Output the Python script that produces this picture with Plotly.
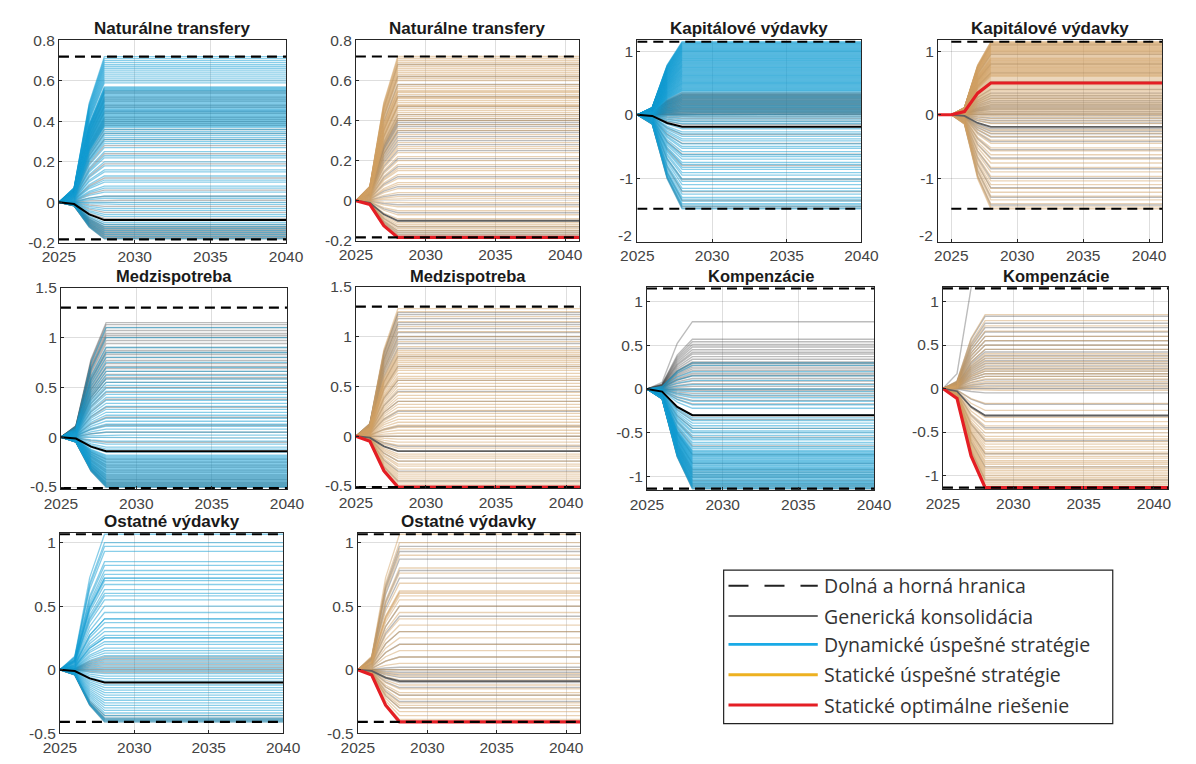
import plotly.graph_objects as go

W, H = 1196, 764
OFF = 8  # default page margin of the html body
FW, FH = W - 2 * OFF, H - 2 * OFF

# ---------------- data ----------------
years_dyn = list(range(2025, 2041))
years_sta = list(range(2025, 2042))
# phase-in share of the final level for 2025, 2026, 2027, 2028, ... (flat afterwards)
phase_dyn = [0.0, 0.1, 0.68] + [1.0] * 13
phase_sta = [0.0, 0.1, 0.68] + [1.0] * 14

titles = ["Naturálne transfery", "Naturálne transfery",
          "Kapitálové výdavky", "Kapitálové výdavky",
          "Medzispotreba", "Medzispotreba",
          "Kompenzácie", "Kompenzácie",
          "Ostatné výdavky", "Ostatné výdavky"]
kinds = ["dyn", "sta", "dyn", "sta", "dyn", "sta", "dyn", "sta", "dyn", "sta"]

lower_bound = [-0.183, -0.183, -1.48, -1.48, -0.51, -0.51, -1.14, -1.14, -0.41, -0.41]
upper_bound = [0.72, 0.72, 1.15, 1.15, 1.30, 1.30, 1.15, 1.15, 1.065, 1.065]
generic_level = [-0.088, -0.10, -0.19, -0.19, -0.14, -0.15, -0.30, -0.31, -0.10, -0.09]
optimal_level = [None, -0.183, None, 0.50, None, -0.51, None, -1.14, None, -0.41]

# final levels of successful strategies (coloured) and other strategies (grey)
succ_1 = [0.72, 0.71, 0.70, 0.69, 0.68, 0.67, 0.66, 0.65, 0.64, 0.63, 0.62, 0.61, 0.60, 0.59,
          0.57, 0.565, 0.56, 0.555, 0.55, 0.545, 0.54, 0.535, 0.53, 0.525, 0.52, 0.515, 0.51,
          0.505, 0.50, 0.495, 0.49, 0.485, 0.48, 0.475, 0.47, 0.465, 0.46, 0.455, 0.45,
          0.445, 0.44, 0.435, 0.43, 0.425, 0.42, 0.415, 0.41, 0.405, 0.40, 0.395, 0.39,
          0.385, 0.38, 0.375, 0.37, 0.36, 0.35, 0.34, 0.33, 0.32, 0.31, 0.30, 0.29, 0.27,
          0.25, 0.23, 0.22, 0.20, 0.18, 0.16, 0.15, 0.13, 0.11, 0.10, 0.08, 0.07, 0.05,
          0.03, 0.02, 0.0, -0.01, -0.03, -0.04, -0.06, -0.07, -0.10, -0.11, -0.12, -0.13,
          -0.14, -0.15, -0.16, -0.17, -0.18]
other_1 = [0.55, 0.54, 0.52, 0.51, 0.50, 0.48, 0.47, 0.45, 0.44, 0.42, 0.41, 0.40, 0.39,
           0.38, 0.36, 0.34, 0.31, 0.28, 0.24, 0.19, 0.12, 0.06, 0.03, 0.01, -0.02, -0.05,
           -0.08, -0.11, -0.12, -0.125, -0.13, -0.135, -0.14, -0.145, -0.15, -0.155, -0.16,
           -0.165, -0.17, -0.175, -0.18]

succ_2 = [0.72, 0.71, 0.70, 0.69, 0.68, 0.67, 0.66, 0.65, 0.64, 0.63, 0.62, 0.61, 0.60, 0.58,
          0.57, 0.56, 0.55, 0.545, 0.54, 0.53, 0.52, 0.515, 0.51, 0.50, 0.49, 0.48, 0.475,
          0.47, 0.46, 0.45, 0.44, 0.43, 0.42, 0.41, 0.40, 0.38, 0.36, 0.35, 0.33, 0.31, 0.29,
          0.27, 0.26, 0.24, 0.22, 0.20, 0.18, 0.16, 0.15, 0.13, 0.11, 0.09, 0.08, 0.06, 0.04,
          0.02, 0.01, -0.01, -0.03, -0.05, -0.07, -0.09, -0.11, -0.12, -0.13, -0.14, -0.15,
          -0.16, -0.17]
other_2 = [0.68, 0.62, 0.58, 0.52, 0.47, 0.43, 0.41, 0.40, 0.39, 0.38, 0.37, 0.35, 0.34,
           0.32, 0.30, 0.28, 0.25, 0.21, 0.17, 0.12, 0.07, 0.03, -0.02, -0.06, -0.13, -0.15,
           -0.16, -0.17]

succ_3 = [1.15, 1.14, 1.13, 1.12, 1.11, 1.10, 1.09, 1.08, 1.07, 1.06, 1.05, 1.04, 1.03, 1.02,
          1.01, 1.00, 0.99, 0.98, 0.97, 0.96, 0.95, 0.94, 0.93, 0.92, 0.91, 0.90, 0.89, 0.88,
          0.87, 0.86, 0.85, 0.84, 0.83, 0.82, 0.81, 0.80, 0.79, 0.78, 0.77, 0.76, 0.75,
          0.74, 0.73, 0.72, 0.71, 0.70, 0.69, 0.68, 0.67, 0.66, 0.65, 0.64, 0.63, 0.62,
          0.61, 0.60, 0.59, 0.58, 0.57, 0.56, 0.55, 0.54, 0.53, 0.52, 0.51, 0.50, 0.49,
          0.48, 0.47, 0.46, 0.45, 0.44, 0.43, 0.42, 0.41, 0.40, 0.39, 0.38, 0.37, 0.35,
          0.33, 0.31, 0.29, 0.27, 0.25, 0.23, 0.21, 0.19, 0.17, 0.15, 0.13, 0.11, 0.09,
          0.07, 0.05, 0.03, 0.01, -0.02, -0.05, -0.08, -0.11, -0.14, -0.22, -0.27, -0.30,
          -0.34, -0.38, -0.41, -0.46, -0.50, -0.53, -0.58, -0.63, -0.66, -0.70, -0.75,
          -0.78, -0.83, -0.86, -0.91, -0.95, -1.01, -1.05, -1.10, -1.16, -1.20, -1.25,
          -1.30, -1.33, -1.36, -1.40, -1.42, -1.45, -1.48]
other_3 = [0.35, 0.33, 0.32, 0.31, 0.30, 0.29, 0.28, 0.27, 0.26, 0.25, 0.24, 0.23, 0.22,
           0.21, 0.20, 0.19, 0.18, 0.17, 0.16, 0.15, 0.14, 0.13, 0.12, 0.11, 0.10, 0.09,
           0.08, 0.07, 0.06, 0.05, 0.04, 0.03, 0.02, 0.01, 0.0, -0.03, -0.06, -0.10, -0.15,
           -0.31, -0.45, -0.62, -0.80, -1.02, -1.21, -1.35, -1.44, -1.47]

succ_4 = [1.15, 1.14, 1.13, 1.12, 1.11, 1.10, 1.09, 1.08, 1.07, 1.06, 1.05, 1.04, 1.03, 1.02,
          1.01, 1.00, 0.99, 0.98, 0.97, 0.96, 0.95, 0.93, 0.92, 0.90, 0.89, 0.88, 0.87,
          0.86, 0.85, 0.84, 0.83, 0.82, 0.81, 0.80, 0.79, 0.78, 0.77, 0.76, 0.75, 0.74,
          0.73, 0.72, 0.71, 0.70, 0.69, 0.68, 0.67, 0.66, 0.65, 0.64, 0.63, 0.62, 0.61,
          0.60, 0.58, 0.56, 0.54, 0.52, 0.50, 0.48, 0.46, 0.44, 0.42, 0.40, 0.38, 0.36,
          0.34, 0.32, 0.30, 0.28, 0.26, 0.24, 0.22, 0.20, 0.18, 0.16, 0.14, 0.12, 0.10,
          0.08, 0.06, 0.04, 0.02, 0.0, -0.03, -0.06, -0.10, -0.14, -0.24, -0.29, -0.34,
          -0.40, -0.45, -0.52, -0.57, -0.63, -0.70, -0.76, -0.83, -0.90, -0.97, -1.04,
          -1.10, -1.16, -1.22, -1.28, -1.34, -1.40, -1.45, -1.48]
other_4 = [1.10, 0.95, 0.80, 0.66, 0.52, 0.40, 0.34, 0.30, 0.26, 0.22, 0.19, 0.16, 0.14,
           0.12, 0.10, 0.08, 0.05, 0.02, -0.01, -0.05, -0.09, -0.13, -0.22, -0.26, -0.30,
           -0.35, -0.42, -0.55, -0.68, -0.85, -1.0, -1.15, -1.30, -1.42]

succ_5 = [1.10, 1.00, 0.90, 0.85, 0.80, 0.75, 0.70, 0.66, 0.62, 0.585, 0.55, 0.52, 0.49,
          0.46, 0.43, 0.40, 0.37, 0.34, 0.31, 0.28, 0.25, 0.22, 0.19, 0.16, 0.13, 0.11, 0.08,
          0.05, 0.02, -0.01, -0.04, -0.07, -0.10, -0.12, -0.15, -0.18, -0.19, -0.20, -0.21,
          -0.22, -0.23, -0.24, -0.25, -0.26, -0.27, -0.28, -0.29, -0.30, -0.31, -0.32,
          -0.33, -0.34, -0.35, -0.36, -0.37, -0.38, -0.39, -0.40, -0.41, -0.42, -0.43,
          -0.44, -0.45, -0.46, -0.47, -0.48, -0.49, -0.50]
other_5 = [1.15, 1.13, 1.10, 1.07, 1.04, 1.02, 1.00, 0.97, 0.94, 0.90, 0.87, 0.85, 0.83,
           0.80, 0.77, 0.74, 0.71, 0.69, 0.66, 0.63, 0.60, 0.585, 0.55, 0.50, 0.45, 0.38,
           0.30, 0.20, 0.12, 0.05, -0.05, -0.22, -0.25, -0.28, -0.30, -0.33, -0.35, -0.38,
           -0.40, -0.42, -0.43, -0.45, -0.46, -0.47, -0.48, -0.49, -0.50]

succ_6 = [1.28, 1.25, 1.20, 1.15, 1.10, 1.05, 1.00, 0.95, 0.90, 0.86, 0.84, 0.82, 0.80, 0.78,
          0.76, 0.74, 0.72, 0.70, 0.68, 0.66, 0.63, 0.60, 0.58, 0.56, 0.53, 0.50, 0.47,
          0.44, 0.41, 0.38, 0.35, 0.32, 0.29, 0.26, 0.23, 0.20, 0.17, 0.14, 0.11, 0.09,
          0.06, 0.03, 0.0, -0.03, -0.06, -0.09, -0.12, -0.18, -0.20, -0.22, -0.25, -0.28,
          -0.30, -0.33, -0.36, -0.38, -0.40, -0.42, -0.44, -0.46, -0.48, -0.50]
other_6 = [1.24, 1.22, 1.18, 1.14, 1.12, 1.08, 1.04, 1.00, 0.97, 0.93, 0.88, 0.80, 0.70,
           0.56, 0.45, 0.35, 0.25, 0.10, 0.0, -0.10, -0.25, -0.35, -0.45]

succ_7 = [0.30, 0.27, 0.20, 0.15, 0.10, 0.05, 0.0, -0.03, -0.07, -0.10, -0.14, -0.18, -0.22,
          -0.30, -0.33, -0.36, -0.39, -0.42, -0.45, -0.48, -0.50, -0.53, -0.56, -0.58,
          -0.61, -0.63, -0.66, -0.68, -0.70, -0.71, -0.72, -0.73, -0.74, -0.75, -0.76,
          -0.77, -0.78, -0.79, -0.80, -0.81, -0.82, -0.83, -0.84, -0.85, -0.86, -0.87,
          -0.88, -0.89, -0.90, -0.91, -0.92, -0.93, -0.94, -0.95, -0.96, -0.97, -0.98,
          -0.99, -1.00, -1.01, -1.02, -1.03, -1.04, -1.05, -1.06, -1.07, -1.08, -1.09,
          -1.10, -1.11, -1.12, -1.13, -1.14]
other_7 = [0.77, 0.57, 0.54, 0.51, 0.48, 0.45, 0.42, 0.40, 0.37, 0.34, 0.31, 0.30, 0.29,
           0.27, 0.25, 0.23, 0.21, 0.18, 0.16, 0.15, 0.12, 0.09, 0.06, 0.03, 0.0, -0.02,
           -0.05, -0.08, -0.13, -0.17, -0.35, -0.45, -0.55, -0.65, -0.75, -0.85, -0.92,
           -0.95, -0.98, -1.01, -1.05, -1.08, -1.10, -1.12, -1.14]

succ_8 = [0.85, 0.78, 0.72, 0.66, 0.60, 0.55, 0.50, 0.45, 0.40, 0.37, 0.34, 0.31, 0.28,
          0.25, 0.22, 0.20, 0.17, 0.14, 0.11, 0.08, 0.05, 0.02, -0.02, -0.17, -0.25, -0.33,
          -0.38, -0.43, -0.47, -0.51, -0.55, -0.58, -0.61, -0.64, -0.67, -0.70, -0.73,
          -0.75, -0.78, -0.80, -0.83, -0.85, -0.87, -0.90, -0.92, -0.94, -0.96, -0.98,
          -1.00, -1.02, -1.04, -1.06, -1.08, -1.10, -1.12, -1.14]
other_8 = [1.70, 0.83, 0.75, 0.70, 0.65, 0.60, 0.55, 0.50, 0.45, 0.42, 0.38, 0.35, 0.32,
           0.29, 0.26, 0.23, 0.20, 0.17, 0.14, 0.10, 0.06, 0.03, 0.0, -0.05, -0.18, -0.45,
           -0.60, -0.75, -0.90, -1.05]

succ_9 = [1.065, 1.00, 0.97, 0.93, 0.85, 0.82, 0.78, 0.75, 0.72, 0.72, 0.70, 0.67, 0.63,
          0.60, 0.58, 0.55, 0.50, 0.45, 0.40, 0.40, 0.37, 0.33, 0.30, 0.27, 0.25, 0.25,
          0.22, 0.20, 0.17, 0.15, 0.13, 0.11, 0.09, 0.07, 0.05, 0.03, 0.01, -0.01, -0.03,
          -0.05, -0.07, -0.09, -0.12, -0.14, -0.16, -0.18, -0.20, -0.22, -0.24, -0.26,
          -0.28, -0.30, -0.32, -0.34, -0.36, -0.38, -0.39, -0.40, -0.41]
other_9 = [0.10, 0.08, 0.06, 0.04, 0.02, 0.0, -0.02, -0.36, -0.38, -0.39, -0.40, -0.41]

succ_10 = [1.065, 1.00, 0.95, 0.90, 0.80, 0.76, 0.68, 0.62, 0.61, 0.60, 0.58, 0.55, 0.50,
           0.45, 0.40, 0.35, 0.30, 0.25, 0.20, 0.15, 0.10, 0.05, 0.0, -0.03, -0.05, -0.08,
           -0.12, -0.15, -0.18, -0.20, -0.23, -0.26, -0.28, -0.30, -0.33, -0.36, -0.39]
other_10 = [0.97, 0.93, 0.87, 0.78, 0.72, 0.50, 0.42, 0.30, 0.20, 0.10, 0.02, 0.0, -0.02,
            -0.04, -0.06, -0.10, -0.14, -0.20, -0.25, -0.30]

succ_levels = [succ_1, succ_2, succ_3, succ_4, succ_5, succ_6, succ_7, succ_8, succ_9, succ_10]
other_levels = [other_1, other_2, other_3, other_4, other_5, other_6, other_7, other_8,
                other_9, other_10]

y_ranges = [[-0.2, 0.8], [-0.2, 0.8], [-2, 1.17], [-2, 1.17], [-0.52, 1.5], [-0.52, 1.5],
            [-1.155, 1.17], [-1.155, 1.17], [-0.5, 1.075], [-0.5, 1.075]]
y_ticks = [[-0.2, 0, 0.2, 0.4, 0.6, 0.8], [-0.2, 0, 0.2, 0.4, 0.6, 0.8],
           [-2, -1, 0, 1], [-2, -1, 0, 1],
           [-0.5, 0, 0.5, 1, 1.5], [-0.5, 0, 0.5, 1, 1.5],
           [-1, -0.5, 0, 0.5, 1], [-1, -0.5, 0, 0.5, 1],
           [-0.5, 0, 0.5, 1], [-0.5, 0, 0.5, 1]]
x_ranges = [[2025, 2040], [2025, 2041], [2025, 2040], [2024, 2041], [2025, 2040],
            [2025, 2041], [2025, 2040], [2025, 2041], [2025, 2040], [2025, 2041]]
x_ticks = [2025, 2030, 2035, 2040]

legend_labels = ["Dolná a horná hranica", "Generická konsolidácia",
                 "Dynamické úspešné stratégie", "Statické úspešné stratégie",
                 "Statické optimálne riešenie"]

# ---------------- layout geometry (page pixels) ----------------
boxes = [(43, 277, 32, 239), (349, 579, 32, 237), (639, 870, 32, 238), (949, 1180, 32, 238),
         (45, 278, 285, 491), (349, 580, 284, 490), (649, 883, 284, 492), (954, 1186, 284, 491),
         (44, 274, 536, 741), (351, 580, 536, 741)]
title_y = [20, 20, 20, 20, 273, 273, 273, 273, 524, 524]
title_size = [17, 17, 17, 17, 16.5, 16.5, 16.5, 16.5, 17, 17]
# panels whose bottom y tick label is lifted slightly (it touches the first x label)
lift_bottom_label = [False, False, True, True, False, False, False, False, False, False]


def px(x):
    return (x - OFF) / FW


def py(y):
    return 1 - (y - OFF) / FH


BLUE = "rgba(20,158,212,0.50)"
TAN = "rgba(208,160,100,0.48)"
GREY = "rgba(70,70,70,0.36)"
RED = "rgb(228,30,36)"
TICKFONT = dict(family="Liberation Sans, Arial", size=15.5, color="#444")

fig = go.Figure()
layout = {}
annotations = []
shapes = []

for i in range(10):
    n = "" if i == 0 else str(i + 1)
    xa, ya = "x" + n, "y" + n
    x0, x1, y0, y1 = boxes[i]
    dyn = kinds[i] == "dyn"
    yrs = years_dyn if dyn else years_sta
    ph = phase_dyn if dyn else phase_sta

    for lv in other_levels[i]:
        fig.add_trace(go.Scatter(x=yrs, y=[lv * f for f in ph], mode="lines",
                                 line=dict(color=GREY, width=1.4), xaxis=xa, yaxis=ya,
                                 hoverinfo="skip", showlegend=False))
    for lv in succ_levels[i]:
        fig.add_trace(go.Scatter(x=yrs, y=[lv * f for f in ph], mode="lines",
                                 line=dict(color=BLUE if dyn else TAN, width=1.3),
                                 xaxis=xa, yaxis=ya, hoverinfo="skip", showlegend=False))
    g = generic_level[i]
    fig.add_trace(go.Scatter(x=yrs, y=[g * f for f in ph], mode="lines",
                             line=dict(color="black" if dyn else "rgb(95,95,95)",
                                       width=2 if dyn else 1.8),
                             xaxis=xa, yaxis=ya, hoverinfo="skip", showlegend=False))
    if optimal_level[i] is not None:
        o = optimal_level[i]
        oy = yrs
        ov = [o * f for f in ph]
        if x_ranges[i][0] < 2025:
            oy = [2024] + yrs
            ov = [0.0] + ov
        fig.add_trace(go.Scatter(x=oy, y=ov, mode="lines", line=dict(color=RED, width=3.2),
                                 xaxis=xa, yaxis=ya, hoverinfo="skip", showlegend=False))
    for b in (lower_bound[i], upper_bound[i]):
        fig.add_trace(go.Scatter(x=[yrs[0], yrs[-1]], y=[b, b], mode="lines",
                                 line=dict(color="black", width=2.2, dash="10px,6px"),
                                 xaxis=xa, yaxis=ya, hoverinfo="skip", showlegend=False))

    tv = list(y_ticks[i])
    if lift_bottom_label[i]:
        bottom = tv.pop(0)
        annotations.append(dict(text="%g" % bottom, xref=xa + " domain", yref=ya,
                                x=0, y=bottom, xanchor="right", yanchor="middle",
                                xshift=-3, yshift=6, showarrow=False, font=TICKFONT))

    axcommon = dict(showline=True, linecolor="#262626", linewidth=1, mirror=True,
                    showgrid=True, gridcolor="rgba(0,0,0,0.13)", gridwidth=1,
                    ticks="inside", ticklen=3, tickcolor="#262626", zeroline=False,
                    tickfont=TICKFONT)
    layout["xaxis" + n] = dict(axcommon, domain=[px(x0), px(x1)], anchor=ya,
                               range=x_ranges[i], tickvals=x_ticks,
                               ticktext=[str(t) for t in x_ticks])
    layout["yaxis" + n] = dict(axcommon, domain=[py(y1), py(y0)], anchor=xa,
                               range=y_ranges[i], tickvals=tv,
                               ticktext=[("%g" % t) for t in tv])
    annotations.append(dict(text="<b>" + titles[i] + "</b>", xref="paper", yref="paper",
                            x=px((x0 + x1) / 2), y=py(title_y[i]), showarrow=False,
                            xanchor="center", yanchor="middle",
                            font=dict(family="Liberation Sans, Arial", size=title_size[i],
                                      color="#1a1a1a")))

# ---------------- legend (manual box) ----------------
lx0, lx1, ly0, ly1 = 728, 1129, 574, 731
shapes.append(dict(type="rect", xref="paper", yref="paper", x0=px(lx0), x1=px(lx1),
                   y0=py(ly1), y1=py(ly0), line=dict(color="#222", width=1.2),
                   fillcolor="white", layer="above"))
row_y = [590, 621, 650, 681, 712]
styles = [dict(color="#222", width=2, dash="20px,16px"),
          dict(color="#333", width=1.6),
          dict(color="rgb(25,170,230)", width=2.6),
          dict(color="rgb(237,177,32)", width=3),
          dict(color="rgb(228,30,36)", width=3)]
for k in range(5):
    shapes.append(dict(type="line", xref="paper", yref="paper", x0=px(733), x1=px(825),
                       y0=py(row_y[k]), y1=py(row_y[k]), line=styles[k], layer="above"))
    annotations.append(dict(text=legend_labels[k], xref="paper", yref="paper",
                            x=px(829), y=py(row_y[k]), showarrow=False,
                            xanchor="left", yanchor="middle",
                            font=dict(family="Open Sans", size=19.5, color="#333")))

fig.update_layout(**layout)
fig.update_layout(width=FW, height=FH, margin=dict(l=0, r=0, t=0, b=0),
                  paper_bgcolor="white", plot_bgcolor="white", showlegend=False,
                  annotations=annotations, shapes=shapes)
fig.write_html("out.html")
